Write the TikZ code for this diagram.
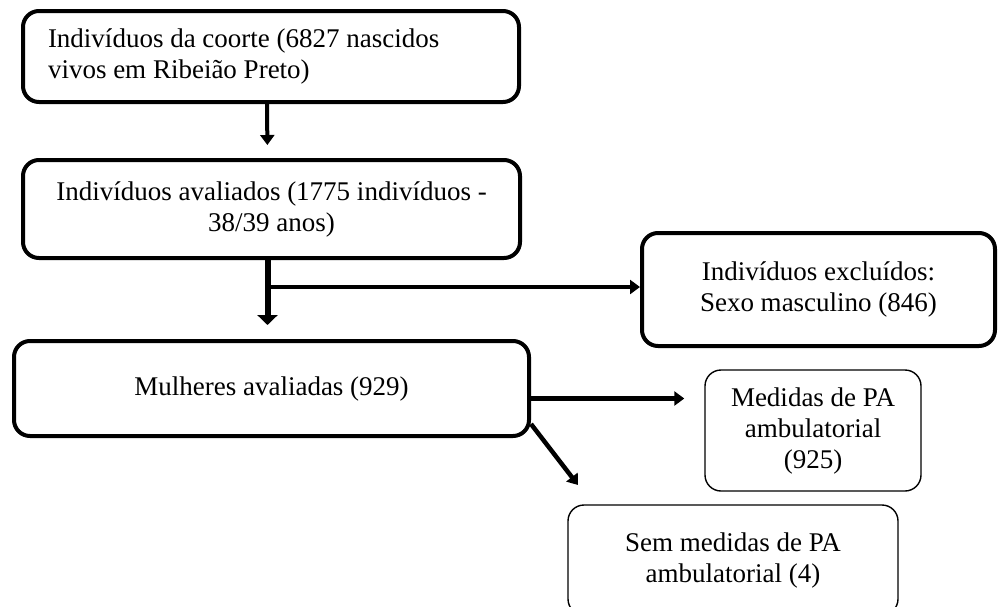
\documentclass[tikz,border=0pt]{standalone}
\usepackage{fontspec}
\setmainfont{Liberation Serif}
\usetikzlibrary{arrows.meta,positioning,calc}

\begin{document}
\begin{tikzpicture}[x=1pt,y=-1pt,
  every node/.style={font=\fontsize{27}{31}\selectfont},
  grossa/.style={draw,line width=4pt,rounded corners=16pt,inner sep=0pt},
  fina/.style={draw,line width=1.4pt,rounded corners=16pt,inner sep=0pt},
  seta/.style={line width=4.5pt,-{Triangle[width=14pt,length=10pt]}}]
\useasboundingbox (0,0) rectangle (999,606);
\node[grossa,minimum width=496pt,minimum height=91pt,text width=446pt,align=flush left] (coorte) at (271,56.5) {Indivíduos da coorte (6827 nascidos\\vivos em Ribeião Preto)};
\node[grossa,minimum width=497pt,minimum height=98pt,align=center] (avaliados) at (271.5,209) {Indivíduos avaliados (1775 indivíduos -\\38/39 anos)};
\node[grossa,minimum width=353pt,minimum height=113pt,align=center] (excluidos) at (818.5,289.5) {Indivíduos excluídos:\\Sexo masculino (846)};
\node[grossa,minimum width=515pt,minimum height=95pt] (mulheres) at (271.5,388.5) {Mulheres avaliadas (929)};
\node[fina,minimum width=216pt,minimum height=121pt,align=center] (medidas) at (813,430.5) {Medidas de PA\\ambulatorial\\(925)};
\node[fina,minimum width=330pt,minimum height=110pt,align=center] (semmedidas) at (733,560) {Sem medidas de PA\\ambulatorial (4)};

\coordinate (ramo) at ($([xshift=-4pt]avaliados.south)+(0,27)$);
\coordinate (saida) at ([yshift=-10pt]mulheres.east);
\coordinate (ponta) at (578,485);

\draw[seta,line width=4pt,shorten >=13pt] ([xshift=-4pt]coorte.south) -- ([xshift=-4pt]avaliados.north);
\draw[line width=6pt,-{Triangle[width=20pt,length=10pt]},shorten >=14pt] ([xshift=-4pt]avaliados.south) -- ([xshift=-4pt]mulheres.north);
\draw[seta] (ramo) -- (ramo -| excluidos.west);
\draw[seta,shorten >=20pt] (saida) -- (saida -| medidas.west);
\draw[seta] ([yshift=14pt]mulheres.south east) -- (ponta);
\end{tikzpicture}
\end{document}
